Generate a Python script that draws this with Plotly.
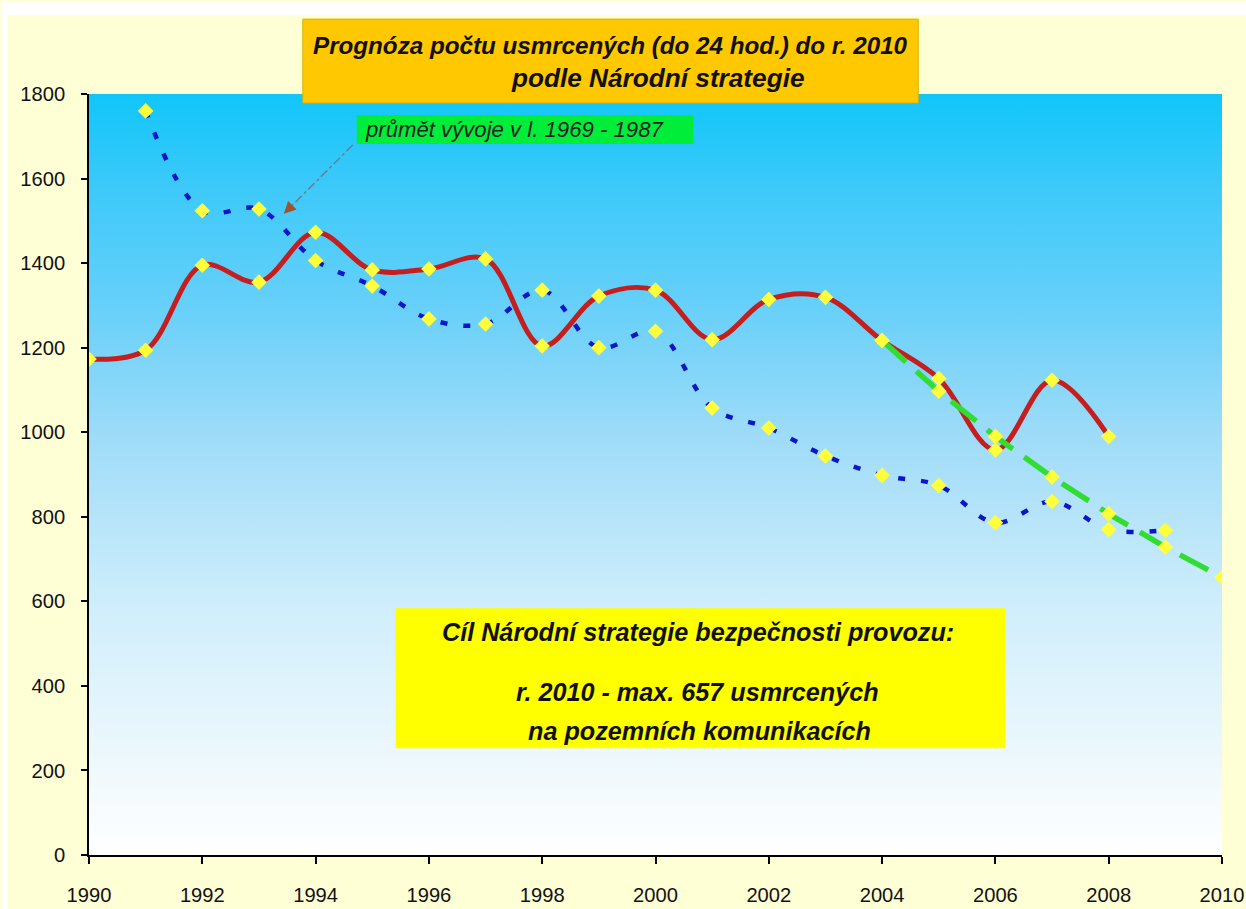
import plotly.graph_objects as go

# ---- data ----
years_actual = [1990, 1991, 1992, 1993, 1994, 1995, 1996, 1997, 1998, 1999,
                2000, 2001, 2002, 2003, 2004, 2005, 2006, 2007, 2008]
deaths_actual = [1173, 1194, 1395, 1355, 1473, 1384, 1386, 1410, 1204, 1322,
                 1336, 1219, 1314, 1319, 1217, 1127, 958, 1123, 990]

years_trend = [1991, 1992, 1993, 1994, 1995, 1996, 1997, 1998, 1999, 2000,
               2001, 2002, 2003, 2004, 2005, 2006, 2007, 2008, 2009]
deaths_trend = [1760, 1524, 1528, 1406, 1346, 1268, 1256, 1336, 1200, 1239,
                1057, 1010, 944, 898, 874, 786, 836, 770, 768]

years_target = [2004, 2005, 2006, 2007, 2008, 2009, 2010]
deaths_target = [1217, 1097, 990, 894, 807, 728, 657]

x_ticks = list(range(1990, 2011, 2))
y_ticks = list(range(0, 1801, 200))
X_RANGE = [1990, 2010]
Y_RANGE = [0, 1800]

title_line1 = "Prognóza počtu usmrcených (do 24 hod.) do r. 2010"
title_line2 = "podle Národní strategie"
trend_label = "průmět vývoje v l. 1969 - 1987"
goal_lines = ["Cíl Národní strategie bezpečnosti provozu:",
              "r. 2010 - max. 657 usmrcených",
              "na pozemních komunikacích"]

FONT = "Arial, 'Liberation Sans', sans-serif"
CREAM = "#FFFFD6"

# reference canvas and the slightly larger figure that gets fitted into it
RW, RH = 1246, 909
W, H = 1256, 918
SX, SY = W / RW, H / RH
# plot area edges in reference pixels
P_LEFT, P_RIGHT, P_TOP, P_BOTTOM = 88, 1222, 93, 855
ML, MR = P_LEFT * SX, W - P_RIGHT * SX
MT, MB = P_TOP * SY, H - P_BOTTOM * SY
PW, PH = W - ML - MR, H - MT - MB


def px(xr):
    return (xr * SX - ML) / PW


def py(yr):
    return (H - MB - yr * SY) / PH


def fs(s):
    return s * SX


fig = go.Figure()

# gradient plot background
fig.add_trace(go.Scatter(
    x=[X_RANGE[0], X_RANGE[1], X_RANGE[1], X_RANGE[0], X_RANGE[0]],
    y=[Y_RANGE[0], Y_RANGE[0], Y_RANGE[1], Y_RANGE[1], Y_RANGE[0]],
    mode="lines", line=dict(width=0), fill="toself",
    fillgradient=dict(type="vertical", start=Y_RANGE[0], stop=Y_RANGE[1],
                      colorscale=[[0, "#FFFFFF"], [0.1, "#F3FAFD"],
                                  [0.33, "#D0EEFB"], [0.55, "#A0DCF8"],
                                  [0.72, "#68D0F9"], [0.88, "#3CC9F9"],
                                  [1, "#10C6F9"]]),
    hoverinfo="skip", showlegend=False))

marker = dict(symbol="diamond", size=12, color="#FFFF3C", line=dict(width=0))

fig.add_trace(go.Scatter(
    x=years_trend, y=deaths_trend, mode="lines+markers",
    line=dict(color="#0A16C8", width=4.5, dash="7px,16px", shape="spline", smoothing=1.0),
    marker=marker, showlegend=False))

fig.add_trace(go.Scatter(
    x=years_actual, y=deaths_actual, mode="lines+markers",
    line=dict(color="#C41E1E", width=5, shape="spline", smoothing=1.0),
    marker=marker, showlegend=False))

fig.add_trace(go.Scatter(
    x=years_target, y=deaths_target, mode="lines+markers",
    line=dict(color="#30DD30", width=5.5, dash="32px,14px"),
    marker=marker, showlegend=False))

shapes = [
    # white strips around the cream frame (kept inside the page)
    dict(type="rect", xref="paper", yref="paper", x0=px(0), x1=px(7), y0=py(RH), y1=py(0),
         fillcolor="white", line=dict(width=0), layer="below"),
    dict(type="rect", xref="paper", yref="paper", x0=px(0), x1=px(RW), y0=py(14), y1=py(0),
         fillcolor="white", line=dict(width=0), layer="below"),
    # title box
    dict(type="rect", xref="paper", yref="paper", x0=px(302), x1=px(918), y0=py(102), y1=py(18),
         fillcolor="#FFC800", line=dict(color="#D8B400", width=1), layer="above"),
    # green label box
    dict(type="rect", xref="paper", yref="paper", x0=px(356), x1=px(693), y0=py(143), y1=py(114),
         fillcolor="#00EE3A", line=dict(width=0), layer="above"),
    # dashed pointer
    dict(type="line", xref="paper", yref="paper", x0=px(352), y0=py(144), x1=px(288), y1=py(208),
         line=dict(color="#6A8090", width=1.5, dash="dashdot"), layer="above"),
    # goal box
    dict(type="rect", xref="paper", yref="paper", x0=px(395), x1=px(1005), y0=py(748), y1=py(608),
         fillcolor="#FFFF00", line=dict(width=0), layer="above"),
]

annotations = [
    dict(text="<b><i>%s</i></b>" % title_line1, xref="paper", yref="paper",
         x=px(610), y=py(44), xanchor="center", yanchor="middle", showarrow=False,
         font=dict(family=FONT, size=fs(24), color="#111111")),
    dict(text="<b><i>%s</i></b>" % title_line2, xref="paper", yref="paper",
         x=px(657), y=py(77), xanchor="center", yanchor="middle", showarrow=False,
         font=dict(family=FONT, size=fs(26), color="#111111")),
    dict(text="<i>%s</i>" % trend_label, xref="paper", yref="paper",
         x=px(362), y=py(129), xanchor="left", yanchor="middle", showarrow=False,
         font=dict(family=FONT, size=fs(22), color="#222222")),
    dict(text="", xref="paper", yref="paper", x=px(283), y=py(213),
         ax=7, ay=-7, showarrow=True, arrowhead=2, arrowsize=1.5, arrowwidth=1.6,
         arrowcolor="#A0522D"),
    dict(text="<b><i>%s</i></b>" % goal_lines[0], xref="paper", yref="paper",
         x=px(698), y=py(632), xanchor="center", yanchor="middle", showarrow=False,
         font=dict(family=FONT, size=fs(25), color="#111111")),
    dict(text="<b><i>%s</i></b>" % goal_lines[1], xref="paper", yref="paper",
         x=px(697), y=py(692), xanchor="center", yanchor="middle", showarrow=False,
         font=dict(family=FONT, size=fs(25), color="#111111")),
    dict(text="<b><i>%s</i></b>" % goal_lines[2], xref="paper", yref="paper",
         x=px(699), y=py(731), xanchor="center", yanchor="middle", showarrow=False,
         font=dict(family=FONT, size=fs(25), color="#111111")),
]

fig.update_layout(
    width=W, height=H,
    margin=dict(l=ML, r=MR, t=MT, b=MB, pad=0),
    paper_bgcolor=CREAM, plot_bgcolor="rgba(0,0,0,0)",
    showlegend=False,
    shapes=shapes, annotations=annotations,
    font=dict(family=FONT, size=19, color="#111111"),
)
fig.update_xaxes(range=X_RANGE, tickvals=x_ticks, ticktext=[str(v) for v in x_ticks],
                 showgrid=False, zeroline=False, showline=True, linecolor="black", linewidth=1.5,
                 ticks="outside", ticklen=7, tickwidth=1.5, tickcolor="black",
                 ticklabelstandoff=14, tickfont=dict(family=FONT, size=fs(20), color="#111111"))
fig.update_yaxes(range=Y_RANGE, tickvals=y_ticks, ticktext=[str(v) for v in y_ticks],
                 showgrid=False, zeroline=False, showline=True, linecolor="black", linewidth=1.5,
                 ticks="outside", ticklen=6, tickwidth=1.5, tickcolor="black",
                 ticklabelstandoff=12, tickfont=dict(family=FONT, size=fs(20), color="#111111"))

post = ("document.documentElement.style.overflow='hidden';"
        "document.documentElement.style.background='" + CREAM + "';"
        "document.body.style.background='" + CREAM + "';"
        "document.body.style.margin='0';document.body.style.overflow='hidden';"
        "var gd=document.getElementById('{plot_id}');"
        "gd.style.position='fixed';gd.style.left='0px';gd.style.top='0px';")

fig.write_html("out.html", config={"displayModeBar": False}, post_script=post)
